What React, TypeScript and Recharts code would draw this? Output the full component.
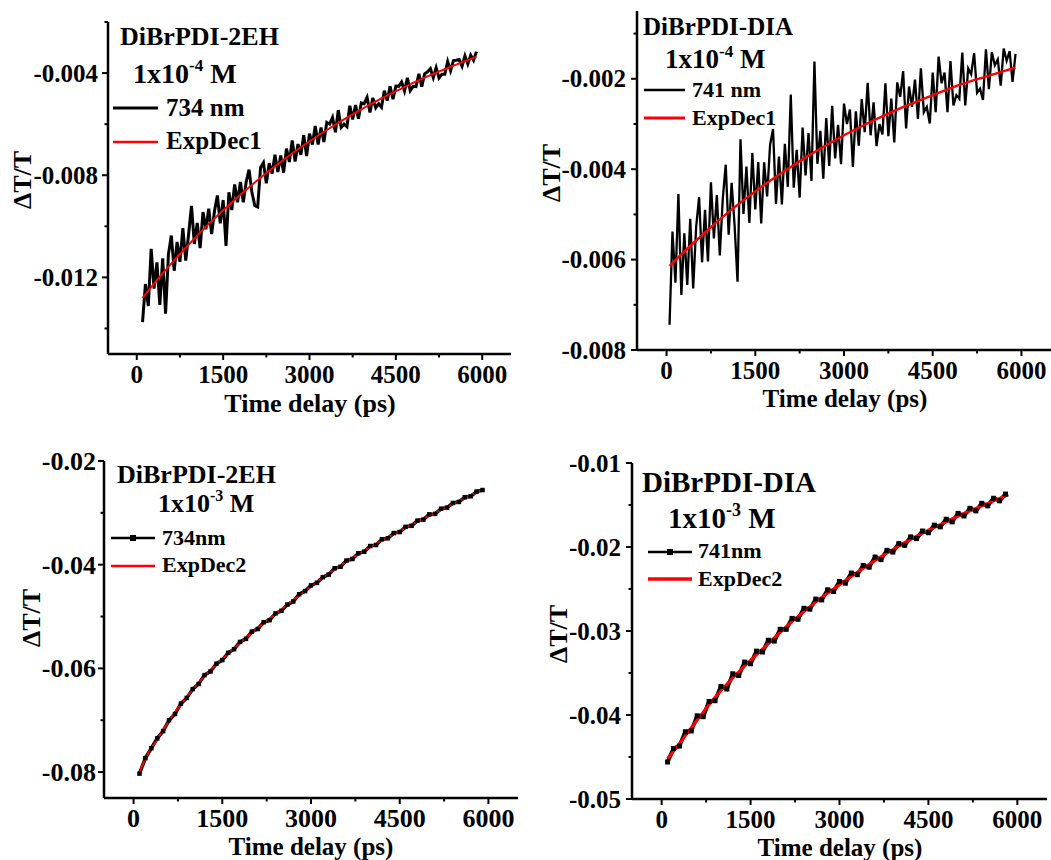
import { Legend, Line, LineChart, XAxis, YAxis } from "recharts";

const FONT = "'Liberation Serif', 'Times New Roman', Times, serif";

// shared time axis (ps)
const xDomain: [number, number] = [-500, 6500];
const xMajor = [0, 1500, 3000, 4500, 6000];
const xMinor = [750, 2250, 3750, 5250];

// ---------- DiBrPDI-2EH, 1x10^-4 M, probe 734 nm
const yMajor2EH4 = [-0.012, -0.008, -0.004];
const yMinor2EH4 = [-0.014, -0.01, -0.006, -0.002];
const trace2EH4: [number, number][] = [
  [100, -0.01375], [150, -0.01226], [200, -0.01312], [250, -0.01088], [300, -0.01244], [350, -0.01141],
  [400, -0.01308], [450, -0.01125], [500, -0.01342], [550, -0.01109], [600, -0.01036], [650, -0.01174],
  [700, -0.01061], [750, -0.01139], [800, -0.01007], [850, -0.01134], [900, -0.01032], [950, -0.0092],
  [1000, -0.01069], [1050, -0.00987], [1100, -0.01085], [1150, -0.00944], [1200, -0.01012], [1250, -0.00931],
  [1300, -0.0103], [1350, -0.0094], [1400, -0.00879], [1450, -0.00988], [1500, -0.00897], [1550, -0.01077],
  [1600, -0.00867], [1650, -0.00936], [1700, -0.00836], [1750, -0.00906], [1800, -0.00826], [1850, -0.00906],
  [1900, -0.00827], [1950, -0.00778], [2000, -0.00868], [2050, -0.00919], [2100, -0.00924], [2150, -0.0077],
  [2200, -0.00751], [2250, -0.00832], [2300, -0.00753], [2350, -0.00794], [2400, -0.0072], [2450, -0.00787],
  [2500, -0.00723], [2550, -0.0079], [2600, -0.00696], [2650, -0.00748], [2700, -0.00664], [2750, -0.00746],
  [2800, -0.00678], [2850, -0.0072], [2900, -0.00643], [2950, -0.00725], [3000, -0.00637], [3050, -0.0068],
  [3100, -0.00607], [3150, -0.0068], [3200, -0.00613], [3250, -0.0067], [3300, -0.00593], [3350, -0.006],
  [3400, -0.00574], [3450, -0.00632], [3500, -0.00545], [3550, -0.00613], [3600, -0.006], [3650, -0.0061],
  [3700, -0.00528], [3750, -0.00582], [3800, -0.00525], [3850, -0.00579], [3900, -0.00517], [3950, -0.0052],
  [4000, -0.00495], [4050, -0.00554], [4100, -0.00497], [4150, -0.00536], [4200, -0.0052], [4250, -0.00534],
  [4300, -0.00469], [4350, -0.00508], [4400, -0.00452], [4450, -0.00502], [4500, -0.00451], [4550, -0.00452],
  [4600, -0.00435], [4650, -0.0047], [4700, -0.00419], [4750, -0.00469], [4800, -0.00452], [4850, -0.00453],
  [4900, -0.00403], [4950, -0.00453], [5000, -0.00403], [5050, -0.00395], [5100, -0.00383], [5150, -0.00418],
  [5200, -0.00379], [5250, -0.00419], [5300, -0.00405], [5350, -0.00405], [5400, -0.00355], [5450, -0.00391],
  [5500, -0.00351], [5550, -0.0035], [5600, -0.00347], [5650, -0.00373], [5700, -0.00333], [5750, -0.00364],
  [5800, -0.0033], [5850, -0.0035], [5900, -0.00316],
];
const fit2EH4: [number, number][] = [
  [100, -0.0128], [300, -0.01224], [600, -0.01146], [900, -0.01072], [1200, -0.01002], [1500, -0.00937],
  [1800, -0.00876], [2100, -0.00819], [2400, -0.00765], [2700, -0.00714], [3000, -0.00667], [3300, -0.00623],
  [3600, -0.00581], [3900, -0.00542], [4200, -0.00505], [4500, -0.00471], [4800, -0.00438], [5100, -0.00408],
  [5400, -0.0038], [5700, -0.00353], [5900, -0.00336],
];

// ---------- DiBrPDI-DIA, 1x10^-4 M, probe 741 nm
const yMajorDIA4 = [-0.008, -0.006, -0.004, -0.002];
const yMinorDIA4 = [-0.007, -0.005, -0.003, -0.001];
const traceDIA4: [number, number][] = [
  [50, -0.00744], [100, -0.00538], [150, -0.00651], [200, -0.00455], [250, -0.00678], [300, -0.00542],
  [350, -0.00656], [400, -0.0051], [450, -0.00664], [500, -0.00528], [550, -0.00462], [600, -0.00606],
  [650, -0.0049], [700, -0.00604], [750, -0.00429], [800, -0.00553], [850, -0.00457], [900, -0.00591],
  [950, -0.00466], [1000, -0.0039], [1050, -0.00545], [1100, -0.0043], [1150, -0.00524], [1200, -0.00649],
  [1250, -0.00334], [1300, -0.00499], [1350, -0.00394], [1400, -0.00519], [1450, -0.00364], [1500, -0.00489],
  [1550, -0.00384], [1600, -0.0052], [1650, -0.00385], [1700, -0.0046], [1750, -0.00346], [1800, -0.00311],
  [1850, -0.00477], [1900, -0.00372], [1950, -0.00478], [2000, -0.00344], [2050, -0.00439], [2100, -0.00235],
  [2150, -0.00441], [2200, -0.00357], [2250, -0.00463], [2300, -0.00308], [2350, -0.00414], [2400, -0.0032],
  [2450, -0.00426], [2500, -0.00162], [2550, -0.00388], [2600, -0.00315], [2650, -0.00421], [2700, -0.00287],
  [2750, -0.00393], [2800, -0.0026], [2850, -0.00376], [2900, -0.00302], [2950, -0.00389], [3000, -0.00255],
  [3050, -0.003], [3100, -0.00268], [3150, -0.00395], [3200, -0.00272], [3250, -0.00348], [3300, -0.00245],
  [3350, -0.00318], [3400, -0.00209], [3450, -0.00325], [3500, -0.00252], [3550, -0.00349], [3600, -0.003],
  [3650, -0.00323], [3700, -0.0021], [3750, -0.00327], [3800, -0.00244], [3850, -0.00341], [3900, -0.00208],
  [3950, -0.0024], [4000, -0.00183], [4050, -0.0031], [4100, -0.00217], [4150, -0.00262], [4200, -0.00202],
  [4250, -0.00289], [4300, -0.00177], [4350, -0.00274], [4400, -0.00262], [4450, -0.00299], [4500, -0.00186],
  [4550, -0.00274], [4600, -0.00151], [4650, -0.0021], [4700, -0.00186], [4750, -0.00274], [4800, -0.00161],
  [4850, -0.00259], [4900, -0.00236], [4950, -0.00244], [5000, -0.00142], [5050, -0.00259], [5100, -0.00177],
  [5150, -0.0019], [5200, -0.00143], [5250, -0.00231], [5300, -0.00222], [5350, -0.00247], [5400, -0.00135],
  [5450, -0.00223], [5500, -0.00141], [5550, -0.0017], [5600, -0.00157], [5650, -0.00215], [5700, -0.00133],
  [5750, -0.0016], [5800, -0.00139], [5850, -0.00207], [5900, -0.00145],
];
const fitDIA4: [number, number][] = [
  [50, -0.00614], [300, -0.00582], [600, -0.00546], [900, -0.00511], [1200, -0.00479], [1500, -0.00449],
  [1800, -0.00421], [2100, -0.00395], [2400, -0.0037], [2700, -0.00347], [3000, -0.00325], [3300, -0.00305],
  [3600, -0.00286], [3900, -0.00268], [4200, -0.00252], [4500, -0.00236], [4800, -0.00221], [5100, -0.00207],
  [5400, -0.00195], [5700, -0.00183], [5900, -0.00175],
];

// ---------- DiBrPDI-2EH, 1x10^-3 M, probe 734 nm
const yMajor2EH3 = [-0.08, -0.06, -0.04, -0.02];
const yMinor2EH3 = [-0.07, -0.05, -0.03];
const trace2EH3: [number, number][] = [
  [100, -0.0803], [200, -0.0773], [300, -0.0754], [400, -0.0735], [500, -0.0721], [600, -0.07],
  [700, -0.0688], [800, -0.0668], [900, -0.0657], [1000, -0.064], [1100, -0.063], [1200, -0.0613],
  [1300, -0.0606], [1400, -0.0591], [1500, -0.0584], [1600, -0.057], [1700, -0.0563], [1800, -0.0549],
  [1900, -0.0543], [2000, -0.0529], [2100, -0.0524], [2200, -0.0511], [2300, -0.0507], [2400, -0.0494],
  [2500, -0.0489], [2600, -0.0477], [2700, -0.0471], [2800, -0.0457], [2900, -0.0451], [3000, -0.044],
  [3100, -0.0435], [3200, -0.0424], [3300, -0.0419], [3400, -0.0407], [3500, -0.0404], [3600, -0.0392],
  [3700, -0.0389], [3800, -0.0378], [3900, -0.0375], [4000, -0.0364], [4100, -0.0362], [4200, -0.0351],
  [4300, -0.0349], [4400, -0.0339], [4500, -0.0337], [4600, -0.0327], [4700, -0.0325], [4800, -0.0315],
  [4900, -0.0313], [5000, -0.0303], [5100, -0.0302], [5200, -0.0292], [5300, -0.029], [5400, -0.0281],
  [5500, -0.0279], [5600, -0.027], [5700, -0.0268], [5800, -0.0259], [5900, -0.0256],
];
const fit2EH3: [number, number][] = [
  [100, -0.08], [250, -0.0763], [400, -0.0737], [600, -0.0701], [900, -0.0655], [1200, -0.0615],
  [1500, -0.0582], [1800, -0.0551], [2100, -0.0522], [2400, -0.0495], [2700, -0.0468], [3000, -0.0442],
  [3300, -0.0417], [3600, -0.0394], [3900, -0.0373], [4200, -0.0353], [4500, -0.0335], [4800, -0.0317],
  [5100, -0.03], [5400, -0.0283], [5700, -0.0266], [5900, -0.0255],
];

// ---------- DiBrPDI-DIA, 1x10^-3 M, probe 741 nm
const yMajorDIA3 = [-0.05, -0.04, -0.03, -0.02, -0.01];
const yMinorDIA3 = [-0.045, -0.035, -0.025, -0.015];
const traceDIA3: [number, number][] = [
  [100, -0.0456], [200, -0.044], [300, -0.0437], [400, -0.042], [500, -0.0419], [600, -0.0401],
  [700, -0.0402], [800, -0.0384], [900, -0.0383], [1000, -0.0366], [1100, -0.0369], [1200, -0.0351],
  [1300, -0.0353], [1400, -0.0337], [1500, -0.0339], [1600, -0.0324], [1700, -0.0325], [1800, -0.0311],
  [1900, -0.0312], [2000, -0.0298], [2100, -0.0298], [2200, -0.0285], [2300, -0.0286], [2400, -0.0273],
  [2500, -0.0274], [2600, -0.0262], [2700, -0.0263], [2800, -0.0251], [2900, -0.0253], [3000, -0.0241],
  [3100, -0.0243], [3200, -0.0231], [3300, -0.0233], [3400, -0.0222], [3500, -0.0224], [3600, -0.0212],
  [3700, -0.0215], [3800, -0.0204], [3900, -0.0206], [4000, -0.0196], [4100, -0.0198], [4200, -0.0188],
  [4300, -0.019], [4400, -0.0181], [4500, -0.0183], [4600, -0.0174], [4700, -0.0176], [4800, -0.0167],
  [4900, -0.017], [5000, -0.016], [5100, -0.0163], [5200, -0.0154], [5300, -0.0157], [5400, -0.0148],
  [5500, -0.0151], [5600, -0.0142], [5700, -0.0145], [5800, -0.0137],
];
const fitDIA3: [number, number][] = [
  [100, -0.0452], [300, -0.0434], [600, -0.0406], [900, -0.0379], [1200, -0.0356], [1500, -0.0335],
  [1800, -0.0315], [2100, -0.0295], [2400, -0.0277], [2700, -0.026], [3000, -0.0245], [3300, -0.023],
  [3600, -0.0216], [3900, -0.0203], [4200, -0.0191], [4500, -0.018], [4800, -0.017], [5100, -0.016],
  [5400, -0.0151], [5700, -0.0142], [5850, -0.0138],
];

const pts = (arr: [number, number][]) => arr.map(([t, v]) => ({ t, v }));
const sorted = (a: number[], b: number[]) => [...a, ...b].sort((p, q) => p - q);
const isMajor = (list: number[], v: number) => list.some((m) => Math.abs(m - v) < 1e-9);

const panels = [
  {
    id: "a", left: 0, top: 0, width: 525, height: 430,
    margin: { top: 22, right: 14, bottom: 16, left: 18 },
    yDomain: [-0.015, -0.002], yMajor: yMajor2EH4, yMinor: yMinor2EH4,
    trace: pts(trace2EH4), fit: pts(fit2EH4), traceName: "734 nm", fitName: "ExpDec1",
    traceW: 3, fitW: 2, markers: false, dot: 0, tickFs: 25, gap: 10,
    title: { text: "DiBrPDI-2EH", x: 120, y: 45, fs: 26 },
    conc: { exp: "-4", x: 133, y: 83, fs: 28 },
    legend: { x1: 113, x2: 158, tx: 166, rows: [108, 142], base: [116, 149], fs: 25 },
    yTitle: { x: 22, y: 180 }, xTitle: { x: 310, y: 412, fs: 26 },
  },
  {
    id: "b", left: 525, top: 0, width: 526, height: 430,
    margin: { top: 11, right: 0, bottom: 20, left: 22 },
    yDomain: [-0.008, -0.0005], yMajor: yMajorDIA4, yMinor: yMinorDIA4,
    trace: pts(traceDIA4), fit: pts(fitDIA4), traceName: "741 nm", fitName: "ExpDec1",
    traceW: 2.3, fitW: 2.4, markers: false, dot: 0, tickFs: 25, gap: 11,
    title: { text: "DiBrPDI-DIA", x: 118, y: 35, fs: 25 },
    conc: { exp: "-4", x: 140, y: 68, fs: 27 },
    legend: { x1: 119, x2: 160, tx: 167, rows: [90, 118], base: [97, 125], fs: 22 },
    yTitle: { x: 26, y: 173 }, xTitle: { x: 320, y: 407, fs: 25 },
  },
  {
    id: "c", left: 0, top: 430, width: 525, height: 430,
    margin: { top: 31, right: 7, bottom: 2, left: 14 },
    yDomain: [-0.085, -0.02], yMajor: yMajor2EH3, yMinor: yMinor2EH3,
    trace: pts(trace2EH3), fit: pts(fit2EH3), traceName: "734nm", fitName: "ExpDec2",
    traceW: 3.5, fitW: 2, markers: true, dot: 4.5, tickFs: 26, gap: 8,
    title: { text: "DiBrPDI-2EH", x: 117, y: 53, fs: 26 },
    conc: { exp: "-3", x: 158, y: 82, fs: 26 },
    legend: { x1: 111, x2: 155, tx: 162, rows: [108, 136], base: [115, 142], fs: 22 },
    yTitle: { x: 31, y: 188 }, xTitle: { x: 311, y: 425, fs: 25 },
  },
  {
    id: "d", left: 525, top: 430, width: 526, height: 430,
    margin: { top: 33, right: 4, bottom: 1, left: 17 },
    yDomain: [-0.05, -0.01], yMajor: yMajorDIA3, yMinor: yMinorDIA3,
    trace: pts(traceDIA3), fit: pts(fitDIA3), traceName: "741nm", fitName: "ExpDec2",
    traceW: 4, fitW: 3, markers: true, dot: 5, tickFs: 25, gap: 11,
    title: { text: "DiBrPDI-DIA", x: 117, y: 62, fs: 29 },
    conc: { exp: "-3", x: 143, y: 98, fs: 29 },
    legend: { x1: 123, x2: 167, tx: 173, rows: [122, 149], base: [128, 156], fs: 22 },
    yTitle: { x: 33, y: 204 }, xTitle: { x: 315, y: 425.5, fs: 25 },
  },
];

type PanelCfg = (typeof panels)[number];

function XTick(props: any) {
  const { x, y, payload, fs } = props;
  const major = isMajor(xMajor, payload.value);
  return (
    <g>
      <line x1={x} x2={x} y1={y} y2={y + (major ? 6 : 3.5)} stroke="#000" strokeWidth={2} />
      {major && (
        <text x={x} y={y + 29} textAnchor="middle" fontFamily={FONT} fontWeight="bold" fontSize={fs} fill="#000">
          {String(payload.value)}
        </text>
      )}
    </g>
  );
}

function YTick(props: any) {
  const { x, y, payload, majors, fs, gap } = props;
  const major = isMajor(majors, payload.value);
  return (
    <g>
      <line x1={x} x2={x - (major ? 6 : 3.5)} y1={y} y2={y} stroke="#000" strokeWidth={2} />
      {major && (
        <text x={x - gap} y={y} dy="0.34em" textAnchor="end" fontFamily={FONT} fontWeight="bold" fontSize={fs} fill="#000">
          {String(payload.value)}
        </text>
      )}
    </g>
  );
}

function AxisTitle({ tx, ty, text, rotate, fs }: any) {
  return (
    <text
      x={tx}
      y={ty}
      dy={rotate ? "0.35em" : 0}
      transform={rotate ? `rotate(-90 ${tx} ${ty})` : undefined}
      textAnchor="middle"
      fontFamily={FONT}
      fontWeight="bold"
      fontSize={fs ?? 26}
      fill="#000"
    >
      {text}
    </text>
  );
}

function Notes({ payload, cfg }: any) {
  const c: PanelCfg = cfg;
  const items = payload ?? [];
  const supFs = Math.round(c.conc.fs * 0.62);
  return (
    <svg width={c.width} height={c.height} style={{ display: "block" }} fontFamily={FONT} fontWeight="bold" fill="#000">
      <text x={c.title.x} y={c.title.y} fontSize={c.title.fs}>{c.title.text}</text>
      <text x={c.conc.x} y={c.conc.y} fontSize={c.conc.fs}>
        1x10
        <tspan dy={-c.conc.fs * 0.42} fontSize={supFs}>{c.conc.exp}</tspan>
        <tspan dy={c.conc.fs * 0.42}> M</tspan>
      </text>
      {items.map((it: any, i: number) => {
        const y = c.legend.rows[i];
        const first = i === 0;
        return (
          <g key={`lg-${i}`}>
            <line
              x1={c.legend.x1}
              x2={c.legend.x2}
              y1={y}
              y2={y}
              stroke={it.color}
              strokeWidth={first ? (c.markers ? 2.5 : Math.min(c.traceW, 3)) : c.fitW + 0.5}
            />
            {first && c.markers && (
              <rect x={(c.legend.x1 + c.legend.x2) / 2 - 3} y={y - 3} width={6} height={6} fill="#000" />
            )}
            <text x={c.legend.tx} y={c.legend.base[i]} fontSize={c.legend.fs}>{it.value}</text>
          </g>
        );
      })}
    </svg>
  );
}

function Panel({ p }: { p: PanelCfg }) {
  const SquareDot = (props: any) => {
    const { cx, cy } = props;
    if (cx == null || cy == null) return <g />;
    const s = p.dot;
    return <rect x={cx - s / 2} y={cy - s / 2} width={s} height={s} fill="#000" />;
  };
  return (
    <div style={{ position: "absolute", left: p.left, top: p.top }}>
      <LineChart width={p.width} height={p.height} margin={p.margin}>
        <XAxis
          type="number"
          dataKey="t"
          domain={xDomain}
          ticks={sorted(xMajor, xMinor)}
          interval={0}
          allowDataOverflow
          height={60}
          tickLine={false}
          tickSize={0}
          tickMargin={0}
          axisLine={{ stroke: "#000", strokeWidth: 2.5 }}
          tick={<XTick fs={p.tickFs} />}
          label={<AxisTitle tx={p.xTitle.x} ty={p.xTitle.y} fs={p.xTitle.fs} text="Time delay (ps)" />}
        />
        <YAxis
          type="number"
          dataKey="v"
          domain={p.yDomain as [number, number]}
          ticks={sorted(p.yMajor, p.yMinor)}
          interval={0}
          allowDataOverflow
          width={90}
          tickLine={false}
          tickSize={0}
          tickMargin={0}
          axisLine={{ stroke: "#000", strokeWidth: 2.5 }}
          tick={<YTick majors={p.yMajor} fs={p.tickFs} gap={p.gap} />}
          label={<AxisTitle tx={p.yTitle.x} ty={p.yTitle.y} text="ΔT/T" rotate />}
        />
        <Legend
          layout="vertical"
          align="center"
          verticalAlign="middle"
          wrapperStyle={{ left: 0, top: 0, width: p.width, height: p.height, pointerEvents: "none" }}
          content={(props: any) => <Notes {...props} cfg={p} />}
        />
        <Line
          data={p.trace}
          dataKey="v"
          name={p.traceName}
          type="linear"
          stroke="#000"
          strokeWidth={p.traceW}
          strokeLinejoin="miter"
          dot={p.markers ? SquareDot : false}
          activeDot={false}
          isAnimationActive={false}
        />
        <Line
          data={p.fit}
          dataKey="v"
          name={p.fitName}
          type="monotone"
          stroke="#ff0000"
          strokeWidth={p.fitW}
          dot={false}
          activeDot={false}
          isAnimationActive={false}
        />
      </LineChart>
    </div>
  );
}

export default function App() {
  return (
    <div style={{ position: "absolute", left: 0, top: 0, width: 1051, height: 860, background: "#fff", overflow: "hidden" }}>
      {panels.map((p) => (
        <Panel key={p.id} p={p} />
      ))}
    </div>
  );
}
